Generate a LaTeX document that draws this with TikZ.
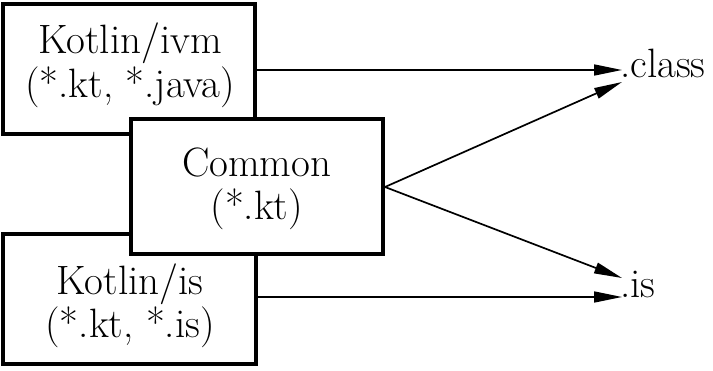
\documentclass[tikz,border=0pt]{standalone}
\usetikzlibrary{arrows.meta}
\begin{document}
\begin{tikzpicture}[x=1pt,y=-1pt,
  box/.style={draw,line width=4pt,fill=white,rectangle,inner sep=0pt},
  lbl/.style={font=\fontsize{41}{43.5}\selectfont,align=center,inner sep=0pt},
  flow/.style={line width=1.7pt,-{Triangle[length=28pt,width=11pt]}}]
  \useasboundingbox (0,0) rectangle (713,371);
  % the two platform boxes, then the shared one drawn on top of them
  \node[box,minimum width=252pt,minimum height=130pt] (jvm) at (128.5,69.5) {};
  \node[box,minimum width=253pt,minimum height=130pt] (js) at (129,299.5) {};
  \node[box,minimum width=252.5pt,minimum height=135pt] (common) at (256.75,187) {};
  \node[lbl] (jvmtxt) at (130,65.5) {Kotlin/ivm\\(*.kt, *.java)};
  \node[lbl] (jstxt) at (130,306) {Kotlin/is\\(*.kt, *.is)};
  \node[lbl] (commontxt) at (256.75,189) {Common\\(*.kt)};
  % output formats
  \node[lbl,anchor=base west] (cls) at (620,78) {.class};
  \node[lbl,anchor=base west] (jsout) at (620,298) {.is};
  \coordinate (clsA) at (622,70);
  \coordinate (clsB) at (622,82);
  \coordinate (jsA) at (622,278);
  \coordinate (jsB) at (622,297);
  \draw[flow] (jvm.east |- clsA) -- (clsA);
  \draw[flow] (common.east) -- (clsB);
  \draw[flow] (common.east) -- (jsA);
  \draw[flow] (js.east |- jsB) -- (jsB);
\end{tikzpicture}
\end{document}
